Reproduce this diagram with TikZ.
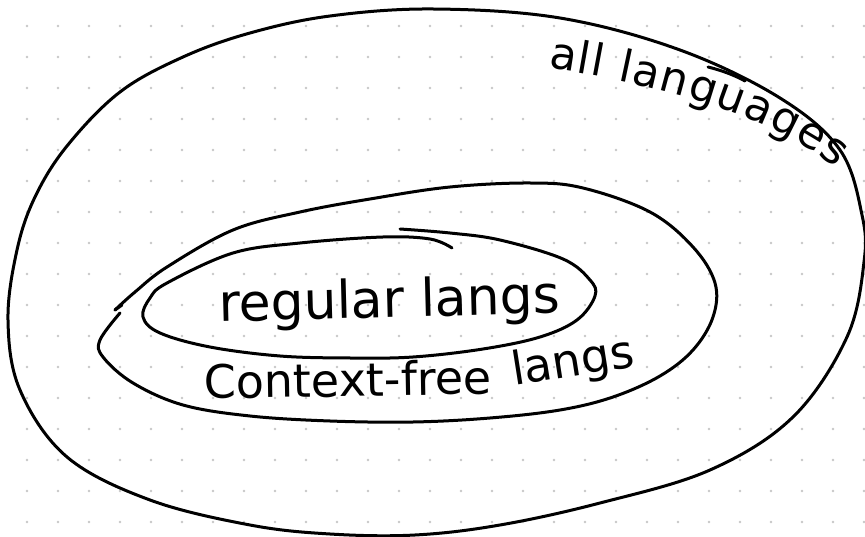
\documentclass[tikz,border=0pt]{standalone}
\usepackage{fontspec}
\setmainfont{DejaVu Sans}
\usetikzlibrary{decorations.text}
\begin{document}
\begin{tikzpicture}[x=1pt,y=-1pt,
  pen/.style={line width=3pt, line cap=round, line join=round},
  griddot/.style={fill=black!22},
  lbl/.style={inner sep=0pt, anchor=base west}]
\useasboundingbox (0,0) rectangle (865,537);
\fill[white] (0,0) rectangle (865,537);
% dot grid
\foreach \i in {0,...,27}
  \foreach \j in {0,...,16}
    \fill[griddot] (27+31*\i, 26+31*\j) circle[radius=1.4pt];
% outer region: all languages
\draw[pen] plot[smooth cycle, tension=0.6] coordinates {
  (8,320) (17,250) (35,197) (67,146) (120,92) (183,57) (250,33) (330,16)
  (433,9) (560,18) (680,50) (780,98) (840,150) (862,215) (864,262)
  (847,337) (793,417) (710,470) (600,503) (500,525) (415,535) (330,534)
  (250,525) (150,500) (67,457) (20,390)};
\draw[pen] (708,67) .. controls (724,71) and (736,76) .. (745,81);
% middle region: context-free langs
\draw[pen] plot[smooth, tension=0.6] coordinates {
  (115,310) (135,292) (167,267) (233,230) (300,212) (370,199) (450,187)
  (530,183) (583,188) (650,212) (693,247) (715,283) (713,317) (693,350)
  (660,376) (613,397) (560,410) (490,418) (413,422) (330,421) (250,416)
  (183,405) (133,383) (103,357) (100,340) (120,313)};
\draw[pen] (115,310) -- (122,305);
% inner region: regular langs
\draw[pen] plot[smooth, tension=0.6] coordinates {
  (400,229) (450,233) (500,240) (563,259) (590,280) (595,296) (577,320)
  (540,337) (483,349) (413,357) (350,358) (280,356) (210,347) (160,333)
  (143,317) (150,298) (167,283) (233,253) (300,243) (383,237) (430,239)
  (452,248)};
% labels
\node[lbl, font=\fontsize{52}{52}\selectfont, rotate=1.5] (reg) at (219,322) {regular langs};
\node[lbl, font=\fontsize{46}{46}\selectfont, rotate=1] (cf) at (204,399) {Context-free};
\node[lbl, font=\fontsize{46}{46}\selectfont, rotate=9] (cfl) at (514,386) {langs};
\path[decorate, decoration={text along path,
   text={|\fontsize{44}{44}\selectfont|all languages},
   text align={fit to path}}]
  (548,68) .. controls (640,82) and (760,108) .. (836,168);
\end{tikzpicture}
\end{document}
